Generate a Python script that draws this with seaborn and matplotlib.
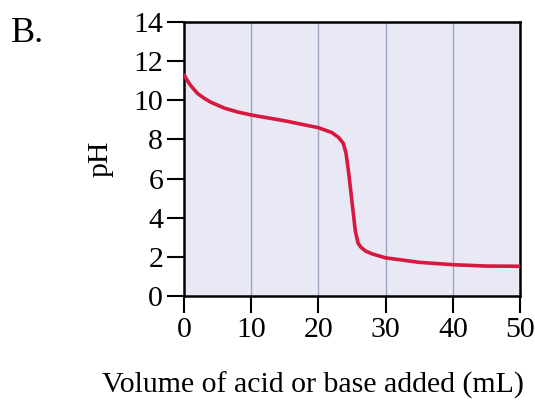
import numpy as np
import pandas as pd
import matplotlib
matplotlib.use('Agg')
import matplotlib.pyplot as plt
import seaborn as sns

# titration curve
volume = [0, 0.5, 1, 2, 3, 4, 6, 8, 10, 15, 20, 22, 23, 23.7, 24.1, 24.5, 25, 25.5, 25.9, 26.3, 27, 28, 30, 35, 40, 45, 50]
ph = [11.3, 11.0, 10.75, 10.35, 10.1, 9.9, 9.6, 9.4, 9.25, 8.95, 8.6, 8.35, 8.1, 7.8, 7.3, 6.3, 4.8, 3.3, 2.7, 2.5, 2.3, 2.15, 1.95, 1.72, 1.6, 1.53, 1.52]
xticks = [0, 10, 20, 30, 40, 50]
yticks = [0, 2, 4, 6, 8, 10, 12, 14]

df = pd.DataFrame({'volume': volume, 'pH': ph})

sns.set_style('white')
plt.rcParams['font.family'] = ['Liberation Serif', 'DejaVu Serif']
plt.rcParams['text.color'] = 'black'
plt.rcParams['axes.labelcolor'] = 'black'
plt.rcParams['xtick.color'] = 'black'
plt.rcParams['ytick.color'] = 'black'

fig = plt.figure(figsize=(5.35, 4.0), dpi=100)
ax = fig.add_axes([0.344, 0.26, 0.628, 0.685])
ax.set_facecolor('#e9e8f5')

for v in xticks[1:-1]:
    ax.axvline(v, color='#9aa6c0', lw=1.0, zorder=1)

sns.lineplot(data=df, x='volume', y='pH', color='#d7193f', lw=2.6, ax=ax, zorder=3)

ax.set_xlim(0, 50)
ax.set_ylim(0, 14)
ax.set_xticks(xticks)
ax.set_yticks(yticks)
ax.tick_params(axis='both', bottom=True, left=True, direction='out', length=12,
               width=1.5, color='black', labelsize=21.5, pad=3)
for s in ax.spines.values():
    s.set_color('black')
    s.set_linewidth(1.8)

ax.set_xlabel('Volume of acid or base added (mL)', fontsize=21.5, va='center')
ax.xaxis.set_label_coords(0.384, -0.325)
ax.set_ylabel('pH', fontsize=21.5, va='center')
ax.yaxis.set_label_coords(-0.25, 0.5)
fig.text(0.02, 0.915, 'B.', fontsize=26, ha='left', va='center')

fig.savefig('out.png', dpi=100)
